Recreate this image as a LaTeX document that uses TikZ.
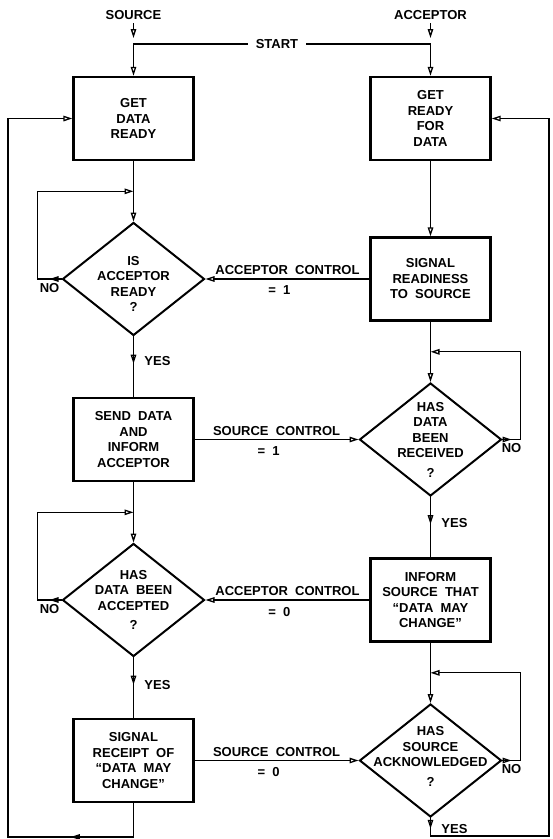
\documentclass[tikz,border=0pt]{standalone}
\usepackage{fontspec}
\setmainfont{Liberation Sans}
\usetikzlibrary{positioning, arrows.meta, shapes.geometric, calc, decorations.markings}

\newcommand{\chartfont}{\fontsize{13}{15.5}\selectfont\bfseries\spaceskip=0.55em\relax}

\begin{document}
\begin{tikzpicture}[
    x=1pt, y=1pt,
    node distance=160.5pt and 297pt, on grid,
    every node/.style={font=\chartfont},
    box/.style={rectangle, draw, line width=2.2pt, minimum width=120pt,
                minimum height=83pt, align=center},
    decision/.style={diamond, draw, line width=2pt, minimum width=142pt,
                     minimum height=113pt, inner sep=0pt},
    qtext/.style={align=center},
    value/.style={below, xshift=-8pt, yshift=-3pt},
    line/.style={line width=1.2pt, line cap=rect},
    arrow/.style={line, -{Triangle[open, length=9pt, width=5.5pt, line width=1.3pt]}},
    midarrow/.style={line, postaction={decorate}, decoration={markings,
        mark=at position #1 with {\arrow{Triangle[open, length=9pt, width=5.5pt, line width=1.3pt]}}}},
    midarrow/.default=0.5
]
\useasboundingbox (0,0) rectangle (553,-839);

% Quelle links, Empfaenger rechts
\node[box] (b1) at (133.5,-118.5) {GET\\DATA\\READY};
\node[box, right=of b1] (b2) {GET\\READY\\FOR\\DATA};
\node[decision, below=of b1,
      label={[qtext, yshift=-5pt]center:{IS\\ACCEPTOR\\READY\\?}}] (d1) {};
\node[box, right=of d1] (b3) {SIGNAL\\READINESS\\TO SOURCE};
\node[box, below=of d1] (b4) {SEND DATA\\AND\\INFORM\\ACCEPTOR};
\node[decision, right=of b4,
      label={[qtext]center:{HAS\\DATA\\BEEN\\RECEIVED\\[4pt]?}}] (d2) {};
\node[decision, below=of b4,
      label={[qtext]center:{HAS\\DATA BEEN\\ACCEPTED\\[4pt]?}}] (d3) {};
\node[box, right=of d3] (b5) {INFORM\\SOURCE THAT\\“DATA MAY\\CHANGE”};
\node[box, below=of d3] (b6) {SIGNAL\\RECEIPT OF\\“DATA MAY\\CHANGE”};
\node[decision, right=of b6,
      label={[qtext, yshift=4pt]center:{HAS\\SOURCE\\ACKNOWLEDGED\\[4pt]?}}] (d4) {};

\node[above=103.5pt of b1] (srclbl) {SOURCE};
\node[above=103.5pt of b2] (acclbl) {ACCEPTOR};
\node[inner xsep=8pt] (start) at (277,-44) {START};

\draw[arrow, shorten >=6pt] (srclbl) -- (srclbl |- start);
\draw[arrow, shorten >=6pt] (acclbl) -- (acclbl |- start);
\draw[arrow] (start) -| (b1);
\draw[arrow] (start) -| (b2);

% Hauptfluss
\draw[arrow] (b1) -- (d1);
\draw[arrow] (b2) -- (b3);
\draw[arrow] (b3) -- (d2);
\draw[arrow] (b4) -- (d3);
\draw[arrow] (b5) -- (d4);
\draw[midarrow=0.45] (d1) -- node[right, xshift=7pt, pos=0.4] {YES} (b4);
\draw[midarrow=0.45] (d2) -- node[right, xshift=7pt, pos=0.43] {YES} (b5);
\draw[midarrow=0.45] (d3) -- node[right, xshift=7pt, pos=0.45] {YES} (b6);

\draw[arrow] (b3) -- node[above] {ACCEPTOR CONTROL} node[value] {= 1} (d1);
\draw[arrow] (b4) -- node[above] {SOURCE CONTROL} node[value] {= 1} (d2);
\draw[arrow] (b5) -- node[above] {ACCEPTOR CONTROL} node[value] {= 0} (d3);
\draw[arrow] (b6) -- node[above] {SOURCE CONTROL} node[value] {= 0} (d4);

% Warteschleifen (NO)
\coordinate (j1) at ($(b1.south)!0.5!(d1.north)$);
\coordinate (j2) at ($(b3.south)!0.5!(d2.north)$);
\coordinate (j3) at ($(b4.south)!0.5!(d3.north)$);
\coordinate (j4) at ($(b5.south)!0.5!(d4.north)$);
\coordinate (n1) at ($(d1.west)+(-24,0)$);
\coordinate (n2) at ($(d2.east)+(18,0)$);
\coordinate (n3) at ($(d3.west)+(-24,0)$);
\coordinate (n4) at ($(d4.east)+(18,0)$);
\draw[midarrow] (d1.west) -- node[below] {NO} (n1);
\draw[arrow] (n1) |- (j1);
\draw[midarrow] (d2.east) -- node[below] {NO} (n2);
\draw[arrow] (n2) |- (j2);
\draw[midarrow] (d3.west) -- node[below] {NO} (n3);
\draw[arrow] (n3) |- (j3);
\draw[midarrow] (d4.east) -- node[below] {NO} (n4);
\draw[arrow] (n4) |- (j4);

% Ruecksprung zum Anfang
\coordinate (botl) at (8,-837);
\coordinate (botr) at (549,-836);
\draw[line] (b6) -- (b6 |- botl);
\draw[midarrow] (b6 |- botl) -- (botl);
\draw[arrow] (botl) |- (b1);
\draw[midarrow=0.6] (d4) -- node[right, xshift=7pt, pos=0.6] {YES} (d4 |- botr);
\draw[arrow] (d4 |- botr) -- (botr) |- (b2);
\end{tikzpicture}
\end{document}
